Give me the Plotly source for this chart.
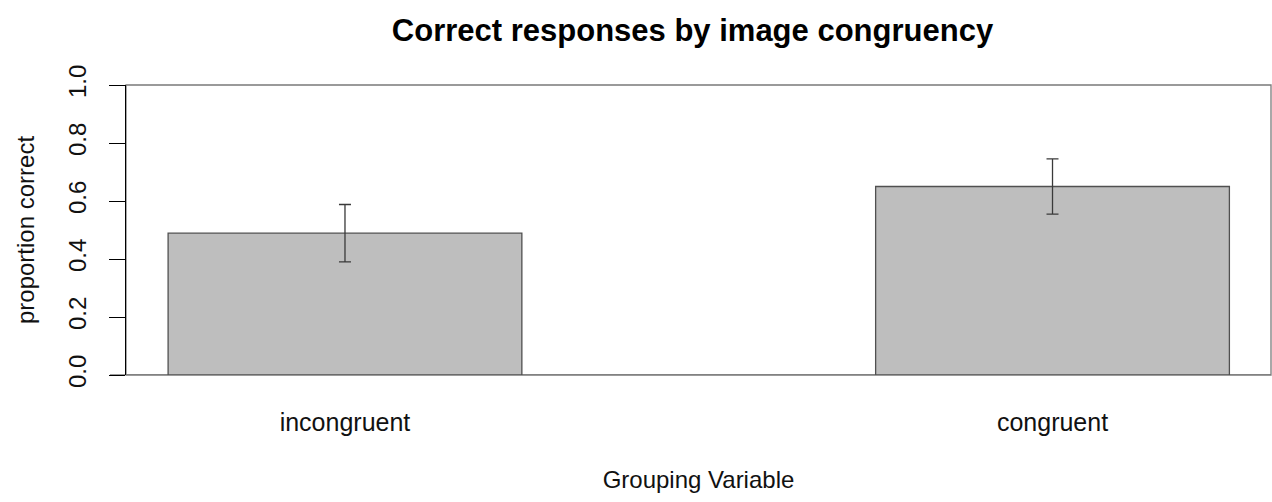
import plotly.graph_objects as go

# Proportion correct per congruency condition, with standard errors
groups = ["incongruent", "congruent"]
prop_correct = [0.489, 0.650]
std_err = [0.099, 0.095]
y_ticks = [0.0, 0.2, 0.4, 0.6, 0.8, 1.0]
y_tick_text = ["0.0", "0.2", "0.4", "0.6", "0.8", "1.0"]

FONT = "Liberation Sans, Arial, Helvetica, sans-serif"

fig = go.Figure()
fig.add_trace(go.Bar(
    x=groups,
    y=prop_correct,
    marker=dict(color="#bebebe", line=dict(color="#505050", width=1.3)),
    error_y=dict(type="data", array=std_err, visible=True,
                 color="#3a3a3a", thickness=1.3, width=6),
    showlegend=False,
))

fig.update_layout(
    width=1272, height=502,
    margin=dict(l=126, r=1, t=85, b=127),
    paper_bgcolor="white", plot_bgcolor="white",
    bargap=0.5,
    font=dict(family=FONT, color="#111111"),
    title=dict(text="<b>Correct responses by image congruency</b>",
               x=0.5 - 6 / 1145, xref="paper", xanchor="center",
               y=1 - 30 / 502, yref="container", yanchor="middle",
               font=dict(size=31, family=FONT, color="#000000")),
    xaxis=dict(
        type="category", categoryorder="array", categoryarray=groups,
        range=[-0.3095, 1.3088],
        showline=False, ticks="", showgrid=False, zeroline=False,
        ticklabelstandoff=30,
        tickfont=dict(size=25, family=FONT, color="#111111"),
        title=dict(text="Grouping Variable", standoff=36,
                   font=dict(size=24, family=FONT, color="#111111")),
    ),
    yaxis=dict(
        range=[0, 1.0], tickvals=y_ticks, ticktext=y_tick_text,
        tickangle=-90,
        showline=True, linecolor="#000000", linewidth=1.2,
        ticks="outside", ticklen=16, tickcolor="#000000", tickwidth=1.2,
        ticklabelstandoff=13,
        showgrid=False, zeroline=False,
        tickfont=dict(size=24, family=FONT, color="#111111"),
        title=dict(text="proportion correct", standoff=22,
                   font=dict(size=24, family=FONT, color="#111111")),
    ),
)

# Gray plot frame (top, right, bottom)
fig.add_shape(type="rect", xref="paper", yref="paper", x0=0, x1=1, y0=0, y1=1,
              line=dict(color="#7a7a7a", width=1.3), layer="below")
# Baseline extending past the axis to the left tick end
fig.add_shape(type="line", xref="paper", yref="y", x0=-16 / 1145, x1=1, y0=0, y1=0,
              line=dict(color="#7a7a7a", width=1.3), layer="below")

fig.write_html("out.html")
